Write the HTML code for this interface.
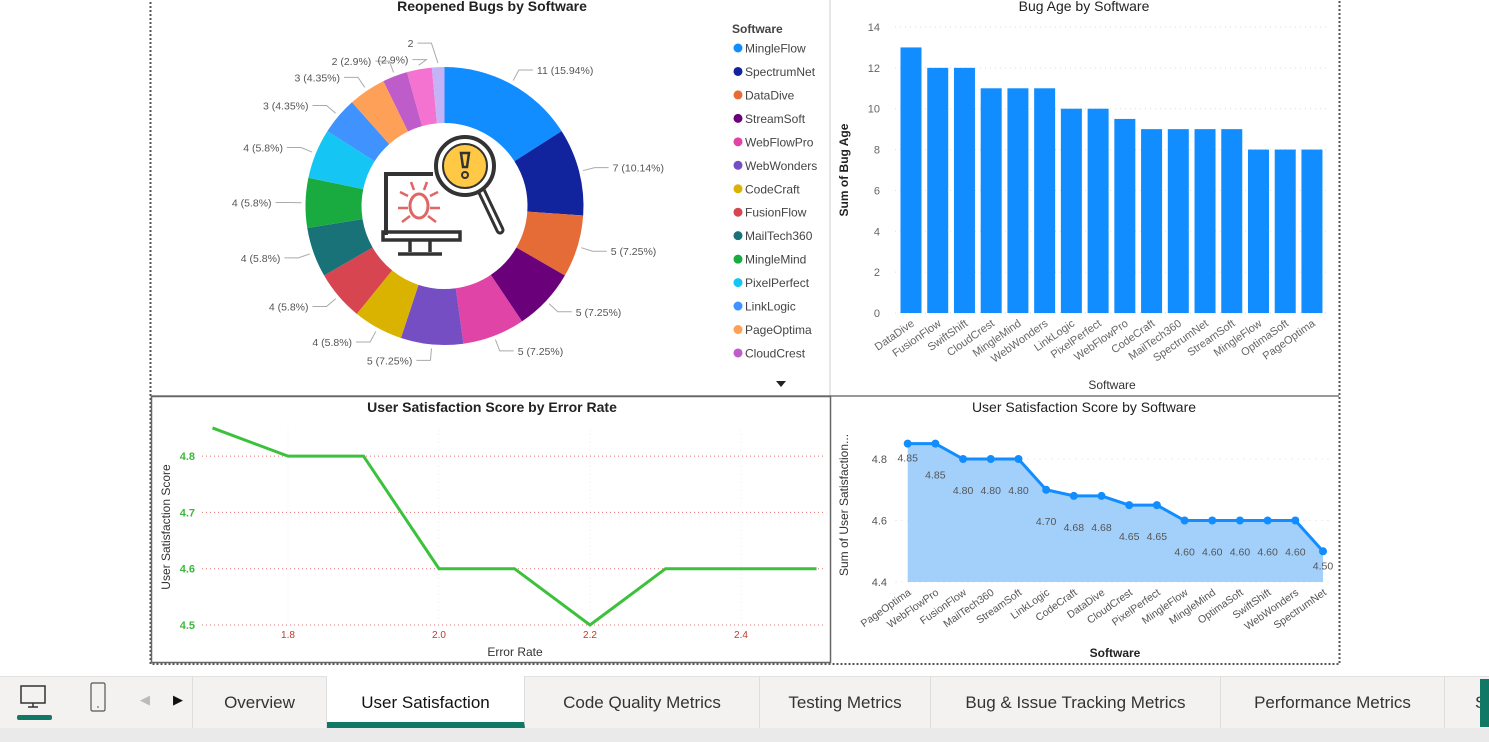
<!DOCTYPE html>
<html><head><meta charset="utf-8">
<style>
body{margin:0;width:1489px;height:742px;background:#fff;font-family:"Liberation Sans",sans-serif;overflow:hidden;position:relative}
svg text{font-family:"Liberation Sans",sans-serif}
.tab{position:absolute;top:676px;height:52px;line-height:54px;font-size:17px;color:#333;text-align:center;border-right:1px solid #ddd;box-sizing:border-box}
</style></head>
<body>
<svg id="main" width="1489" height="742" style="position:absolute;left:0;top:0">
  <rect x="150.5" y="-2" width="1189" height="666" fill="none" stroke="#555" stroke-width="2" stroke-dasharray="2,2"/>
  <line x1="830" y1="0" x2="830" y2="396" stroke="#ccc" stroke-width="1"/>
  <line x1="151" y1="396" x2="1339" y2="396" stroke="#777" stroke-width="1.5"/>
  <rect x="151.5" y="396.5" width="679" height="266" fill="none" stroke="#666" stroke-width="1.5"/>
  <g id="donut"></g>
  <g id="bar"></g>
  <g id="line"></g>
  <g id="area"></g>
</svg>

<div style="position:absolute;left:0;top:676px;width:1489px;height:52px;background:#f3f2f1;border-top:1px solid #e1e1e1"></div>
<div style="position:absolute;left:0;top:728px;width:1489px;height:14px;background:#eaeaea"></div>
<svg style="position:absolute;left:14px;top:682px" width="40" height="40"><rect x="7" y="4" width="24" height="17" fill="none" stroke="#333" stroke-width="1.5"/><line x1="19" y1="21" x2="19" y2="25" stroke="#333" stroke-width="1.5"/><line x1="14" y1="25" x2="24" y2="25" stroke="#333" stroke-width="1.5"/><rect x="3" y="33" width="35" height="5" rx="2" fill="#117865"/></svg>
<svg style="position:absolute;left:89px;top:682px" width="20" height="32"><rect x="2" y="1" width="14" height="28" rx="1.5" fill="none" stroke="#555" stroke-width="1.2"/><line x1="8" y1="25" x2="10" y2="25" stroke="#555"/></svg>
<div style="position:absolute;left:140px;top:692px;font-size:13px;color:#bbb">◀</div>
<div style="position:absolute;left:173px;top:692px;font-size:13px;color:#111">▶</div>
<div style="position:absolute;left:192px;top:676px;height:52px;border-left:1px solid #ddd"></div>
<div class="tab" style="left:193px;width:134px">Overview</div>
<div class="tab" style="left:327px;width:198px;background:#fff;color:#111;border-bottom:6px solid #117865">User Satisfaction</div>
<div class="tab" style="left:525px;width:235px">Code Quality Metrics</div>
<div class="tab" style="left:760px;width:171px">Testing Metrics</div>
<div class="tab" style="left:931px;width:290px">Bug &amp; Issue Tracking Metrics</div>
<div class="tab" style="left:1221px;width:224px">Performance Metrics</div>
<div class="tab" style="left:1445px;width:44px;text-align:left;padding-left:30px;border-right:none">S</div>
<div style="position:absolute;left:1480px;top:679px;width:9px;height:48px;background:#117865"></div>

<script>
const NS="http://www.w3.org/2000/svg";
function mk(parent,tag,attrs,text){const e=document.createElementNS(NS,tag);for(const k in attrs)e.setAttribute(k,attrs[k]);if(text!==undefined)e.textContent=text;parent.appendChild(e);return e;}

const donutNames=["MingleFlow","SpectrumNet","DataDive","StreamSoft","WebFlowPro","WebWonders","CodeCraft","FusionFlow","MailTech360","MingleMind","PixelPerfect","LinkLogic","PageOptima","CloudCrest","OptimaSoft","SwiftShift"];
const donutValues=[11,7,5,5,5,5,4,4,4,4,4,3,3,2,2,1];
const donutLabels=["11 (15.94%)","7 (10.14%)","5 (7.25%)","5 (7.25%)","5 (7.25%)","5 (7.25%)","4 (5.8%)","4 (5.8%)","4 (5.8%)","4 (5.8%)","4 (5.8%)","3 (4.35%)","3 (4.35%)","2 (2.9%)","(2.9%)","2"];
const donutColors=["#118DFF","#12239E","#E66C37","#6B007B","#E044A7","#744EC2","#D9B300","#D64550","#197278","#1AAB40","#15C6F4","#4092FF","#FFA058","#BE5DC9","#F472D0","#C5B3F8"];

const barCats=["DataDive","FusionFlow","SwiftShift","CloudCrest","MingleMind","WebWonders","LinkLogic","PixelPerfect","WebFlowPro","CodeCraft","MailTech360","SpectrumNet","StreamSoft","MingleFlow","OptimaSoft","PageOptima"];
const barValues=[13,12,12,11,11,11,10,10,9.5,9,9,9,9,8,8,8];
const barTicks=[0,2,4,6,8,10,12,14];

const lineX=[1.7,1.8,1.9,2.0,2.1,2.2,2.3,2.5];
const lineY=[4.85,4.8,4.8,4.6,4.6,4.5,4.6,4.6];
const lineXTicks=["1.8","2.0","2.2","2.4"];
const lineYTicks=["4.5","4.6","4.7","4.8"];

const areaCats=["PageOptima","WebFlowPro","FusionFlow","MailTech360","StreamSoft","LinkLogic","CodeCraft","DataDive","CloudCrest","PixelPerfect","MingleFlow","MingleMind","OptimaSoft","SwiftShift","WebWonders","SpectrumNet"];
const areaValues=[4.85,4.85,4.8,4.8,4.8,4.7,4.68,4.68,4.65,4.65,4.6,4.6,4.6,4.6,4.6,4.5];
const areaTicks=["4.4","4.6","4.8"];

(function(){
 const g=document.getElementById('donut');
 mk(g,'text',{x:492,y:11,'text-anchor':'middle','font-size':14,'font-weight':'bold',fill:'#222'},'Reopened Bugs by Software');
 const cx=444.5,cy=206,R=139,r=83;
 const total=donutValues.reduce((a,b)=>a+b,0);
 let a0=-Math.PI/2;
 donutValues.forEach((v,i)=>{
  const a1=a0+v/total*2*Math.PI;
  const large=(a1-a0)>Math.PI?1:0;
  const p=(ang,rad)=>[cx+rad*Math.cos(ang),cy+rad*Math.sin(ang)];
  const [x0,y0]=p(a0,R),[x1,y1]=p(a1,R),[x2,y2]=p(a1,r),[x3,y3]=p(a0,r);
  const s=mk(g,'path',{d:`M${x0},${y0} A${R},${R} 0 ${large} 1 ${x1},${y1} L${x2},${y2} A${r},${r} 0 ${large} 0 ${x3},${y3} Z`,fill:donutColors[i]});
  
  
  const m=(a0+a1)/2;
  const [lx0,ly0]=p(m,R+4);
  let [lx1,ly1]=p(m,R+16);
  let dx=0,dy=0;
  if(i===14){dx=10;dy=6;}
  if(i===15){dx=-6;dy=-8;}
  lx1+=dx;ly1+=dy;
  const right=Math.cos(m)>=0;
  const lx2=lx1+(right?14:-14);
  mk(g,'polyline',{points:`${lx0},${ly0} ${lx1},${ly1} ${lx2},${ly1}`,fill:'none',stroke:'#aaa','stroke-width':1});
  const t=mk(g,'text',{x:lx2+(right?4:-4),y:ly1+4,'text-anchor':right?'start':'end','font-size':10.5,fill:'#555'},donutLabels[i]);
  
  a0=a1;
 });
 const ic=mk(g,'g',{});
 
 mk(ic,'path',{d:'M386,235 V174 H433',fill:'none',stroke:'#333','stroke-width':4});
 mk(ic,'rect',{x:383,y:232,width:77,height:8,fill:'none',stroke:'#333','stroke-width':3.5});
 mk(ic,'line',{x1:410,y1:240,x2:410,y2:252,stroke:'#333','stroke-width':3.5});
 mk(ic,'line',{x1:430,y1:240,x2:430,y2:252,stroke:'#333','stroke-width':3.5});
 mk(ic,'line',{x1:398,y1:254,x2:442,y2:254,stroke:'#333','stroke-width':3.5});
 mk(ic,'ellipse',{cx:419,cy:206,rx:9,ry:12,fill:'none',stroke:'#e06666','stroke-width':3});
 mk(ic,'path',{d:'M408,196 l-8,-4 M430,196 l8,-4 M408,208 h-10 M430,208 h10 M410,216 l-8,6 M428,216 l8,6 M414,190 l-3,-8 M424,190 l3,-8',stroke:'#e06666','stroke-width':2.5,fill:'none'});
 mk(ic,'line',{x1:480,y1:188,x2:500,y2:230,stroke:'#333','stroke-width':9,'stroke-linecap':'round'});
 mk(ic,'line',{x1:480,y1:188,x2:500,y2:230,stroke:'#fff','stroke-width':3,'stroke-linecap':'round'});
 mk(ic,'circle',{cx:465,cy:166,r:29,fill:'#fff',stroke:'#333','stroke-width':4});
 mk(ic,'circle',{cx:465,cy:166,r:22,fill:'#FFC845',stroke:'#333','stroke-width':2});
 mk(ic,'path',{d:'M461,153 h8 l-2,14 h-4 Z',fill:'none',stroke:'#333','stroke-width':2.5});
 mk(ic,'circle',{cx:465,cy:175,r:3,fill:'none',stroke:'#333','stroke-width':2});
 mk(g,'text',{x:732,y:33,'font-size':12,'font-weight':'bold',fill:'#444'},'Software');
 donutNames.slice(0,14).forEach((n,i)=>{
  const y=48+i*23.46;
  const c=mk(g,'circle',{cx:738,cy:y,r:4.5,fill:donutColors[i]});
  
  const t=mk(g,'text',{x:745,y:y+4.5,'font-size':12,fill:'#444'},n);
  
  
 });
 const arr=mk(g,'path',{d:'M776,381 h10 l-5,6 Z',fill:'#222'});
 
 
})();

(function(){
 const g=document.getElementById('bar');
 mk(g,'text',{x:1084,y:11,'text-anchor':'middle','font-size':14,fill:'#222'},'Bug Age by Software');
 const y0=313,yTop=27,vmax=14;
 const ys=v=>y0-(v/vmax)*(y0-yTop);
 const x0=911,step=26.73,bw=21;
 barTicks.forEach(t=>{
  mk(g,'line',{x1:895,y1:ys(t),x2:1330,y2:ys(t),stroke:'#ddd','stroke-dasharray':'1,4'});
  mk(g,'text',{x:880,y:ys(t)+4,'text-anchor':'end','font-size':11,fill:'#666'},String(t));
 });
 barValues.forEach((v,i)=>{
  const cx=x0+i*step;
  const b=mk(g,'rect',{x:cx-bw/2,y:ys(v),width:bw,height:y0-ys(v),fill:'#118DFF'});
  
  
  const t=mk(g,'text',{x:cx+4,y:y0+12,'text-anchor':'end','font-size':11,fill:'#666',transform:`rotate(-35 ${cx+4} ${y0+12})`},barCats[i]);
  
 });
 mk(g,'text',{x:1112,y:389,'text-anchor':'middle','font-size':12,fill:'#333'},'Software');
 mk(g,'text',{x:848,y:170,'text-anchor':'middle','font-size':12,'font-weight':'bold',fill:'#222',transform:'rotate(-90 848 170)'},'Sum of Bug Age');
})();

(function(){
 const g=document.getElementById('line');
 mk(g,'text',{x:492,y:412,'text-anchor':'middle','font-size':14,'font-weight':'bold',fill:'#222'},'User Satisfaction Score by Error Rate');
 const xs=v=>288+(v-1.8)/0.2*151;
 const ys=v=>625-(v-4.5)/0.1*56.3;
 lineYTicks.forEach(t=>{
  mk(g,'line',{x1:202,y1:ys(+t),x2:824,y2:ys(+t),stroke:'#e07070','stroke-dasharray':'1,3'});
  mk(g,'text',{x:195,y:ys(+t)+4,'text-anchor':'end','font-size':11,'font-weight':'bold',fill:'#3db83d'},t);
 });
 lineXTicks.forEach(t=>{
  mk(g,'line',{x1:xs(+t),y1:430,x2:xs(+t),y2:625,stroke:'#eee','stroke-dasharray':'1,3'});
  mk(g,'text',{x:xs(+t),y:638,'text-anchor':'middle','font-size':10,fill:'#c0392b'},t);
 });
 const pts=lineX.map((x,i)=>xs(x)+','+ys(lineY[i])).join(' ');
 const l=mk(g,'polyline',{points:pts,fill:'none',stroke:'#3cc13c','stroke-width':3});
 
 
 mk(g,'text',{x:515,y:656,'text-anchor':'middle','font-size':12,fill:'#333'},'Error Rate');
 mk(g,'text',{x:170,y:527,'text-anchor':'middle','font-size':12,fill:'#333',transform:'rotate(-90 170 527)'},'User Satisfaction Score');
})();

(function(){
 const g=document.getElementById('area');
 mk(g,'text',{x:1084,y:412,'text-anchor':'middle','font-size':14,fill:'#222'},'User Satisfaction Score by Software');
 const x0=907.7,step=(1323-907.7)/15;
 const xs=i=>x0+i*step;
 const ys=v=>582-(v-4.4)/0.2*61.5;
 areaTicks.forEach(t=>{
  mk(g,'line',{x1:895,y1:ys(+t),x2:1330,y2:ys(+t),stroke:'#eee','stroke-dasharray':'2,4'});
  mk(g,'text',{x:887,y:ys(+t)+4,'text-anchor':'end','font-size':11,fill:'#555'},t);
 });
 let d=`M${xs(0)},${ys(4.4)}`;
 areaValues.forEach((v,i)=>{d+=` L${xs(i)},${ys(v)}`;});
 d+=` L${xs(areaValues.length-1)},${ys(4.4)} Z`;
 mk(g,'path',{d:d,fill:'#a3d0fb'});
 const l=mk(g,'polyline',{points:areaValues.map((v,i)=>xs(i)+','+ys(v)).join(' '),fill:'none',stroke:'#118DFF','stroke-width':3});
 
 areaValues.forEach((v,i)=>{
  const c=mk(g,'circle',{cx:xs(i),cy:ys(v),r:4,fill:'#118DFF'});
  
  
  let ly=ys(v)+35;
  if(i===0) ly=ys(v)+18;
  if(i===areaValues.length-1) ly=ys(v)+18;
  mk(g,'text',{x:xs(i),y:ly,'text-anchor':'middle','font-size':10.5,fill:'#555'},v.toFixed(2));
  mk(g,'text',{x:xs(i)+4,y:594,'text-anchor':'end','font-size':10.5,fill:'#555',transform:`rotate(-35 ${xs(i)+4} 594)`},areaCats[i]);
 });
 mk(g,'text',{x:1115,y:657,'text-anchor':'middle','font-size':12,'font-weight':'bold',fill:'#222'},'Software');
 mk(g,'text',{x:848,y:505,'text-anchor':'middle','font-size':12,fill:'#333',transform:'rotate(-90 848 505)'},'Sum of User Satisfaction...');
})();
</script>
</body></html>
